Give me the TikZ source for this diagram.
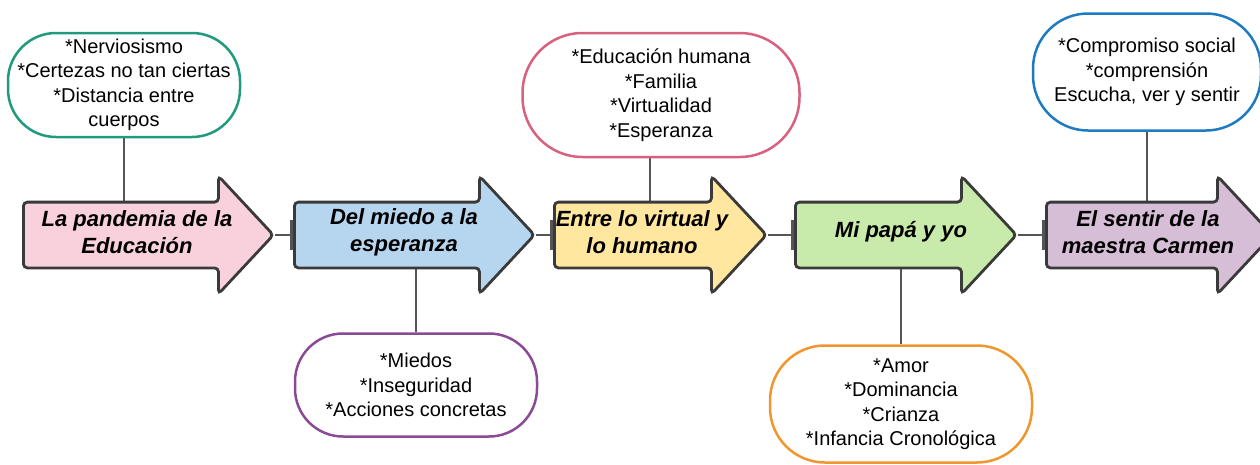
\documentclass[tikz,border=0pt]{standalone}
\usepackage{fontspec}
\setmainfont{Liberation Sans}
\usepackage{tikz}
\usetikzlibrary{positioning}
\usetikzlibrary{shapes.arrows,backgrounds,arrows.meta}

\definecolor{rosa}{HTML}{F9D1DD}
\definecolor{celeste}{HTML}{B6D6F0}
\definecolor{amarillo}{HTML}{FFE7A0}
\definecolor{verdeclaro}{HTML}{C8EAAA}
\definecolor{lila}{HTML}{D6BED6}
\definecolor{borde}{HTML}{3A3A3A}
\definecolor{gris}{HTML}{555555}
\definecolor{verdeazul}{HTML}{1F9A7C}
\definecolor{morado}{HTML}{8A4A96}
\definecolor{rosaborde}{HTML}{D9617F}
\definecolor{naranja}{HTML}{F0962E}
\definecolor{azul}{HTML}{1F7BC0}

\tikzset{
  etapa/.style={draw=borde, line width=2.8pt, single arrow, single arrow head extend=26pt,
    single arrow tip angle=94, inner xsep=0pt, inner ysep=31.5pt, rounded corners=4pt, anchor=tail},
  etapatxt/.style={align=center, font=\fontsize{22}{27}\selectfont\bfseries\itshape},
  nota/.style={draw, line width=2.5pt, fill=white, rounded corners=48pt, align=center,
    font=\fontsize{20}{24.5}\selectfont},
  enlace/.style={draw=gris, line width=2pt},
}

\begin{document}
\begin{tikzpicture}[x=1pt, y=-1pt]
    \useasboundingbox (0,0) rectangle (1260,464);
    \clip (0,0) rectangle (1260,464);
    % Etapas
    \node [etapa, fill=rosa, minimum height=250pt] (e1) at (22,235) {};
    \node [etapa, fill=celeste, minimum height=240pt] (e2) at (293,235) {};
    \node [etapa, fill=amarillo, minimum height=212pt] (e3) at (553,235) {};
    \node [etapa, fill=verdeclaro, minimum height=221pt] (e4) at (794,235) {};
    \node [etapa, fill=lila, minimum height=226pt] (e5) at (1045,235) {};
    \node [etapatxt] (t1) at (137,232) {La pandemia de la\\Educación};
    \node [etapatxt] (t2) at (404,232) {Del miedo a la\\esperanza};
    \node [etapatxt] (t3) at (642,232) {Entre lo virtual y\\lo humano};
    \node [etapatxt] (t4) at (901,232) {Mi papá y yo};
    \node [etapatxt] (t5) at (1148,232) {El sentir de la\\maestra Carmen};
    % Notas
    \node [nota, draw=verdeazul, minimum width=232pt, minimum height=104pt] (c1) at (124,85)
      {*Nerviosismo\\*Certezas no tan ciertas\\*Distancia entre\\cuerpos};
    \node [nota, draw=morado, minimum width=242pt, minimum height=103pt] (c2) at (416,385)
      {*Miedos\\*Inseguridad\\*Acciones concretas};
    \node [nota, draw=rosaborde, minimum width=277pt, minimum height=124pt, rounded corners=60pt] (c3) at (661,95)
      {*Educación humana\\*Familia\\*Virtualidad\\*Esperanza};
    \node [nota, draw=naranja, minimum width=262pt, minimum height=117pt, rounded corners=55pt] (c4) at (901,404)
      {*Amor\\*Dominancia\\*Crianza\\*Infancia Cronológica};
    \node [nota, draw=azul, minimum width=228pt, minimum height=117pt, rounded corners=55pt] (c5) at (1147,72)
      {*Compromiso social\\*comprensión\\Escucha, ver y sentir};
    % Enlaces
    \begin{pgfonlayer}{background}
      \draw [enlace] (c1.south) -- (c1.south |- e1.tail);
      \draw [enlace] (c2.north) -- (c2.north |- e2.tail);
      \draw [enlace] ([xshift=-11pt]c3.south) -- ([xshift=-11pt]c3.south |- e3.tail);
      \draw [enlace] (c4.north) -- (c4.north |- e4.tail);
      \draw [enlace] (c5.south) -- (c5.south |- e5.tail);
    \end{pgfonlayer}
    \draw [enlace, -{Bar[width=30pt, line width=3pt]}] (e1.tip) -- (e2.tail);
    \draw [enlace, -{Bar[width=30pt, line width=3pt]}] (e2.tip) -- (e3.tail);
    \draw [enlace, -{Bar[width=30pt, line width=3pt]}] (e3.tip) -- (e4.tail);
    \draw [enlace, -{Bar[width=30pt, line width=3pt]}] (e4.tip) -- (e5.tail);
\end{tikzpicture}
\end{document}
